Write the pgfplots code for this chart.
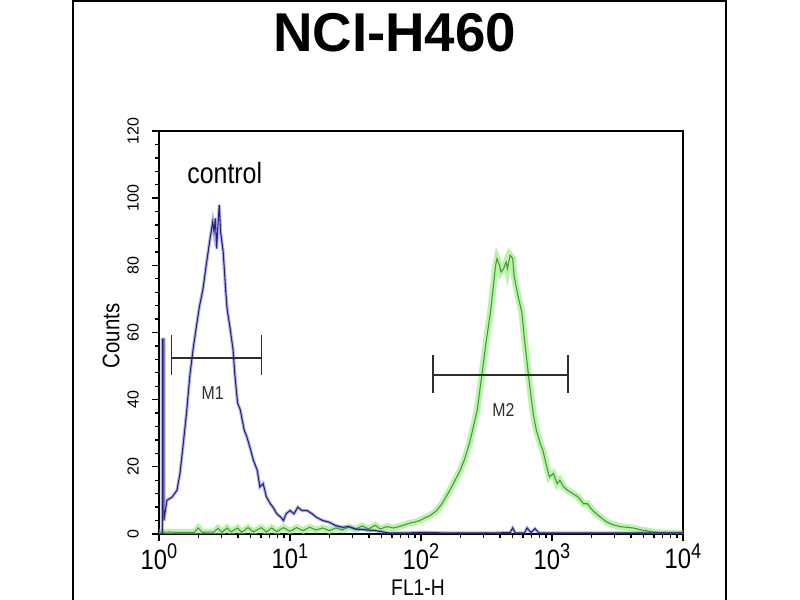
\documentclass[border=0pt]{standalone}
\usepackage{pgfplots}
\pgfplotsset{compat=1.18}
\usepackage{pgfplotstable}
\usepackage{fontspec}
\setmainfont{Liberation Sans}
\newfontfamily\narrow[FakeStretch=0.85]{Liberation Sans}

\definecolor{navy}{RGB}{35,35,110}
\definecolor{blueglow}{RGB}{90,90,235}
\definecolor{grn}{RGB}{70,150,60}
\definecolor{grnglow}{RGB}{130,235,100}
\definecolor{markc}{RGB}{45,45,45}

\newcommand{\dec}[1]{{\narrow\fontsize{21}{21}\selectfont 10\raisebox{8pt}{\fontsize{16}{16}\selectfont #1}}}

\pgfplotstableread{
x y
1.06 0
1.06 58
1.09 58
1.09 4
1.148 10
1.259 11
1.371 13
1.445 18
1.514 25
1.622 36
1.718 47
1.820 55
1.950 63
2.042 68
2.168 73
2.291 80
2.455 88
2.570 93
2.630 90
2.692 94
2.754 85
2.818 92
2.884 98
2.951 90
3.090 84
3.236 72
3.311 67
3.467 62
3.673 55
3.802 47
3.981 39
4.169 37
4.467 31
4.677 29
5.012 25
5.248 22
5.623 19
5.888 14
6.237 15
6.607 11
7.079 9
7.413 8
7.943 6
8.511 5
8.913 4
9.333 6
10.00 7
10.72 6
11.48 8
12.30 7
13.49 7
14.79 6
15.85 5
17.78 4
19.95 3.5
22.39 2.5
25.12 2
28.18 2.2
31.62 1.5
38.90 1.2
44.67 1
57.54 0.3
79.43 0.3
100 0.5
158.5 0.3
316.2 0.3
478.6 0.4
501.2 1.8
524.8 0.3
616.6 0.3
645.7 1.8
691.8 0.4
741.3 1.6
794.3 0.3
3162 0.3
10000 0.3
}\bluedata

\pgfplotstableread{
x y
1.000 0.5
1.047 0.5
1.202 0.6
1.318 0.5
1.862 0.5
1.995 1.8
2.138 0.5
2.630 0.6
2.818 1.7
3.020 0.5
3.311 1.8
3.548 0.6
3.981 1.8
4.266 0.5
4.786 1.9
5.248 0.6
6.026 1.9
6.607 0.6
7.244 1.8
7.943 0.7
8.913 1.9
10.00 0.8
11.22 1.9
12.59 1.0
14.13 2.0
15.85 1.2
17.78 1.8
19.95 1.0
22.39 1.8
25.12 1.2
28.18 2.1
31.62 1.4
35.48 2.4
39.81 1.5
44.67 2.6
48.98 1.5
54.95 2.2
61.66 1.8
69.18 2.3
75.86 2.8
83.18 3.3
89.13 3.5
97.72 4
107.2 4.8
117.5 5.5
131.8 7
144.5 9
154.9 11
166.0 13
182.0 16
199.5 19
213.8 22
234.4 27
251.2 32
269.2 37
281.8 43
295.1 49
316.2 58
338.8 66
354.8 73
371.5 80
380.2 82
398.1 80
407.4 78
426.6 79
446.7 81
457.1 79
478.6 83
501.2 82
512.9 77
524.8 75
549.5 71
588.8 66
616.6 58
645.7 51
676.1 44
724.4 35
758.6 31
812.8 27
851.1 25
912.0 20
955.0 17
1023 18
1096 15
1148 16
1230 14
1318 13
1445 12
1585 11
1738 9
1862 9
2042 7
2188 6
2344 5
2630 3.5
2951 2.7
3311 2.2
3715 2
4169 1.8
4786 1.2
5248 1.0
5888 0.6
7079 0.3
10000 0.2
}\greendata

\begin{document}
\begin{tikzpicture}
\useasboundingbox (0pt,0pt) rectangle (600pt,450pt);
\draw[line width=1.6pt] (54.75pt,-3pt) -- (54.75pt,449.2pt) -- (544.5pt,449.2pt) -- (544.5pt,-3pt);
\begin{axis}[
  at={(119.25pt,49.5pt)}, anchor=south west,
  scale only axis, width=393pt, height=302.25pt,
  xmode=log, xmin=1, xmax=10000, ymin=0, ymax=120,
  xtick={1,10,100,1000,10000},
  xticklabels={\dec{0},\dec{1},\dec{2},\dec{3},\dec{4}},
  minor xtick={2,3,4,5,6,7,8,9,20,30,40,50,60,70,80,90,200,300,400,500,600,700,800,900,2000,3000,4000,5000,6000,7000,8000,9000},
  ytick={0,20,40,60,80,100,120},
  yticklabels={0,20,40,60,80,100,120},
  minor y tick num=4,
  tick align=outside, xtick pos=bottom, ytick pos=left,
  major tick length=5pt, minor tick length=3pt,
  axis line style={line width=1.2pt},
  tick style={black, line width=1pt},
  yticklabel style={rotate=90, anchor=south, inner sep=0pt, font=\fontsize{12}{12}\selectfont, yshift=10pt},
  xticklabel style={anchor=north, inner sep=0pt, yshift=-2pt},
]
\addplot[grnglow, opacity=0.55, line width=5pt, forget plot] table[x=x,y=y] {\greendata};
\addplot[grn, line width=0.8pt] table[x=x,y=y] {\greendata};
\addplot[blueglow, opacity=0.45, line width=2.4pt, forget plot] table[x=x,y=y] {\bluedata};
\addplot[navy, line width=0.8pt] table[x=x,y=y] {\bluedata};
% marker bars
\addplot[markc, line width=1.2pt] coordinates {(1.25,52.4) (6.08,52.4)};
\addplot[markc, line width=1.2pt] coordinates {(1.25,47.3) (1.25,59.3)};
\addplot[markc, line width=1.2pt] coordinates {(6.08,47.3) (6.08,59.3)};
\addplot[markc, line width=1.2pt] coordinates {(123,47.3) (1318,47.3)};
\addplot[markc, line width=1.2pt] coordinates {(123,42) (123,53.3)};
\addplot[markc, line width=1.2pt] coordinates {(1318,42) (1318,53.3)};
\node[anchor=base west, font=\narrow\fontsize{22}{22}\selectfont, inner sep=0pt] at (axis cs:1.637,104.5) {control};
\node[font=\narrow\fontsize{14}{14}\selectfont, text=markc] at (axis cs:2.57,42) {M1};
\node[font=\narrow\fontsize{14}{14}\selectfont, text=markc] at (axis cs:426,37) {M2};
\end{axis}
\node[anchor=base, font=\bfseries\fontsize{41}{41}\selectfont] at (296pt,411pt) {NCI-H460};
\node[rotate=90, font=\narrow\fontsize{18}{18}\selectfont] at (83.25pt,198pt) {Counts};
\node[anchor=base, font=\narrow\fontsize{17}{17}\selectfont, inner sep=0pt] at (313.5pt,3pt) {FL1-H};
\end{tikzpicture}
\end{document}
